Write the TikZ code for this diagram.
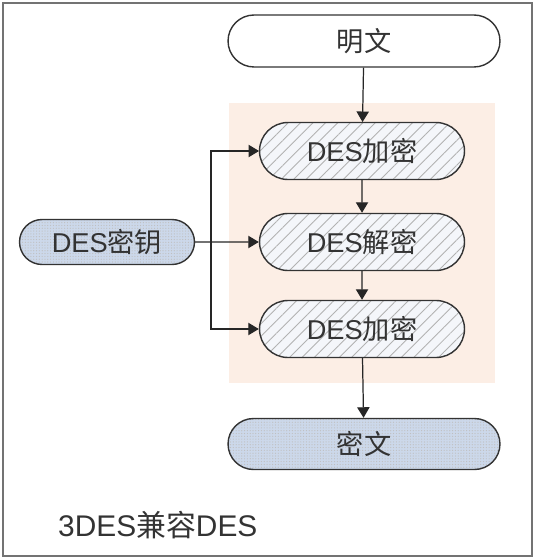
\documentclass[tikz,border=0pt]{standalone}
\usepackage{fontspec}
\setmainfont{Liberation Sans}
\newfontfamily\cjk{Noto Sans CJK SC}
\usetikzlibrary{arrows.meta,shapes.misc,patterns.meta}
\definecolor{peach}{RGB}{252,238,229}
\definecolor{keyblue}{RGB}{204,216,234}
\definecolor{hatchbg}{RGB}{244,246,250}
\tikzset{
  stage/.style={rounded rectangle,draw=black!80,line width=0.8pt,text=black!80,
    font=\fontsize{15.5}{18}\selectfont,inner sep=0pt},
  plainbox/.style={stage,fill=white,minimum width=5.44cm,minimum height=1.04cm},
  hatchbox/.style={stage,minimum width=4.1cm,minimum height=1.14cm,
    preaction={fill=hatchbg},
    pattern={Lines[angle=45,distance=5pt,line width=0.5pt]},pattern color=black!30},
  dotbox/.style={stage,preaction={fill=keyblue},
    pattern={Dots[distance=1.6pt,radius=0.35pt]},pattern color=black!25},
  flow/.style={-{Triangle[width=7pt,length=6pt]},line width=0.7pt,black!85}
}
\begin{document}
\begin{tikzpicture}[x=0.02cm,y=-0.02cm]
  \useasboundingbox (0,0) rectangle (536,560);
  \draw[black!55,line width=0.8pt] (3,3) rectangle (532,556);
  \fill[peach] (229,103) rectangle (495,383);
  % plain text and cipher text
  \node[plainbox] (plain) at (364,41) {\cjk 明文};
  \node[dotbox,minimum width=5.44cm,minimum height=1.02cm] (cipher) at (364,444) {\cjk 密文};
  % the three DES stages
  \node[hatchbox] (enc1) at (362,151) {DES{\cjk 加密}};
  \node[hatchbox] (dec)  at (362,242) {DES{\cjk 解密}};
  \node[hatchbox] (enc2) at (362,329) {DES{\cjk 加密}};
  % key
  \node[dotbox,minimum width=3.5cm,minimum height=0.9cm] (key) at (107,242) {DES{\cjk 密钥}};
  \coordinate (split) at (211,242);
  \node[anchor=west,text=black!80,font=\fontsize{17}{20}\selectfont] (title) at (52,525) {3DES{\cjk 兼容}DES};
  % connectors
  \draw[flow] (plain) -- (enc1);
  \draw[flow] (enc1) -- (dec);
  \draw[flow] (dec) -- (enc2);
  \draw[flow] (enc2) -- (cipher);
  \draw[flow] (key) -- (dec);
  \draw[flow] (split) |- (enc1);
  \draw[flow] (split) |- (enc2);
\end{tikzpicture}
\end{document}
